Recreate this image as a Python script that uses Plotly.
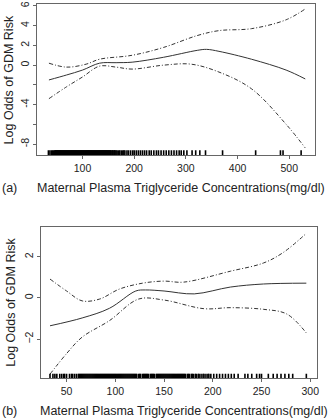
import plotly.graph_objects as go

# ---------------- Data: panel (a) ----------------
a_x = [35, 69, 100, 133, 165, 196, 257, 322, 340, 364, 427, 494, 531]
a_fit = [-1.5, -1.0, -0.5, 0.2, 0.25, 0.3, 0.8, 1.5, 1.6, 1.4, 0.6, -0.5, -1.4]
a_up_x = [35, 69, 107, 133, 196, 257, 322, 364, 427, 494, 531]
a_up = [0.2, -0.2, 0.1, 0.6, 1.0, 1.8, 3.0, 3.5, 3.7, 4.6, 5.7]
a_lo_x = [35, 69, 100, 133, 165, 196, 257, 310, 364, 427, 494, 531]
a_lo = [-3.4, -2.2, -1.2, -0.1, -0.2, -0.4, 0.0, 0.1, -0.7, -2.4, -6.0, -8.4]

rug_a = [34, 37, 40, 42, 44, 46, 47, 48, 49, 50, 51, 52, 53, 54, 55, 56, 57, 58,
         59, 60, 61, 62, 63, 64, 65, 66, 67, 68, 69, 70, 71, 72, 73, 74, 75, 76,
         77, 78, 79, 80, 81, 82, 83, 84, 85, 86, 87, 88, 89, 90, 91, 92, 93, 94,
         95, 96, 97, 98, 99, 100, 101, 102, 103, 104, 105, 106, 107, 108, 109,
         110, 111, 112, 113, 114, 115, 116, 117, 118, 119, 120, 121, 122, 123,
         124, 125, 126, 127, 128, 129, 130, 131, 132, 133, 134, 135, 136, 137,
         138, 139, 140, 141, 142, 143, 144, 145, 146, 147, 148, 149, 150, 151,
         152, 153, 154, 155, 157, 158, 159, 161, 162, 163, 165, 167, 170, 172,
         175, 178, 180, 182, 186, 189, 193, 197, 200, 204, 208, 212, 216, 220,
         224, 229, 233, 238, 243, 247, 252, 257, 262, 267, 272, 277, 282, 287,
         291, 296, 302, 312, 319, 327, 338, 371, 435, 483, 488, 523]

# ---------------- Data: panel (b) ----------------
b_x = [33, 66, 94, 121, 131, 150, 181, 218, 252, 296]
b_fit = [-1.35, -0.97, -0.5, 0.34, 0.39, 0.34, 0.2, 0.53, 0.68, 0.72]
b_up_x = [33, 50, 66, 84, 104, 128, 150, 170, 218, 252, 272, 296]
b_up = [0.92, 0.34, -0.14, -0.05, 0.43, 0.72, 0.82, 0.77, 1.3, 1.7, 2.2, 3.14]
b_lo_x = [33, 50, 66, 94, 124, 150, 191, 218, 252, 276, 296]
b_lo = [-3.7, -2.7, -1.9, -1.1, -0.05, -0.1, -0.52, -0.47, -0.55, -0.78, -1.7]

rug_b = [33, 36, 38, 40, 43, 45, 47, 48, 50, 53, 55, 56, 58, 60, 62, 63,
         64, 65, 66, 67, 68, 69, 70, 71, 72, 73, 74, 75, 76, 77, 78, 79, 80, 81,
         82, 83, 84, 85, 86, 87, 88, 89, 90, 91, 92, 93, 94, 95, 96, 97, 98, 99,
         100, 101, 102, 103, 104, 105, 106, 107, 108, 109, 110, 111, 112, 113,
         114, 115, 116, 117, 118, 119, 120, 121, 122, 124, 125, 126, 128, 129,
         130, 131, 132, 133, 134, 136, 137, 138, 139, 140, 142, 143, 144, 145,
         146, 147, 148, 149, 150, 151, 152, 153, 154, 155, 156, 157, 158, 159,
         160, 161, 162, 163, 164, 165, 166, 167, 168, 169, 170, 171, 172, 174,
         175, 176, 178, 179, 180, 182, 183, 185, 186, 188, 190, 191, 193, 195,
         196, 198, 201, 204, 207, 210, 213, 216, 219, 222, 226, 233, 236, 240,
         245, 248, 250, 257, 262, 266, 270, 274, 278, 282, 296]

x_title = "Maternal Plasma Triglyceride Concentrations(mg/dl)"
y_title = "Log Odds of GDM Risk"
a_xticks = [100, 200, 300, 400, 500]
a_yticks = [-8, -6, -4, -2, 0, 2, 4, 6]
a_yticktext = ["-8", "", "-4", "", "0", "2", "4", "6"]
b_xticks = [50, 100, 150, 200, 250, 300]
b_yticks = [-2, 0, 2]

a_xrange = [11.5, 550]
a_yrange = [-9.1, 6.2]
b_xrange = [23.5, 307]
b_yrange = [-3.9, 3.43]

FONT = "Liberation Sans, Arial, sans-serif"
LC = "#333333"
DASH = "4px,2px,1px,2px"

fig = go.Figure()


def rug_trace(vals, yr, xa, ya):
    y0 = yr[0]
    y1 = yr[0] + 0.03 * (yr[1] - yr[0])
    xs, ys = [], []
    for v in vals:
        xs += [v, v, None]
        ys += [y0, y1, None]
    return go.Scatter(x=xs, y=ys, mode="lines", line=dict(color="#000000", width=1.6),
                      xaxis=xa, yaxis=ya, showlegend=False, hoverinfo="skip")


def curve(x, y, xa, ya, dash=None):
    return go.Scatter(x=x, y=y, mode="lines",
                      line=dict(color=LC, width=1, dash=dash, shape="spline", smoothing=1.0),
                      xaxis=xa, yaxis=ya, showlegend=False)


fig.add_trace(curve(a_x, a_fit, "x", "y"))
fig.add_trace(curve(a_up_x, a_up, "x", "y", DASH))
fig.add_trace(curve(a_lo_x, a_lo, "x", "y", DASH))
fig.add_trace(rug_trace(rug_a, a_yrange, "x", "y"))

fig.add_trace(curve(b_x, b_fit, "x2", "y2"))
fig.add_trace(curve(b_up_x, b_up, "x2", "y2", DASH))
fig.add_trace(curve(b_lo_x, b_lo, "x2", "y2", DASH))
fig.add_trace(rug_trace(rug_b, b_yrange, "x2", "y2"))

W, H = 330, 418
axis_common = dict(showline=True, linecolor="#666666", linewidth=1, mirror=True,
                   ticks="outside", ticklen=3, tickcolor="#666666", tickwidth=1,
                   showgrid=False, zeroline=False, ticklabeloverflow="allow",
                   tickfont=dict(family=FONT, size=10.5, color="#222222"))

fig.update_layout(
    width=W, height=H,
    margin=dict(l=0, r=0, t=0, b=0),
    paper_bgcolor="white", plot_bgcolor="white",
    xaxis=dict(domain=[37 / W, 317 / W], range=a_xrange, anchor="y",
               tickvals=a_xticks, **axis_common),
    yaxis=dict(domain=[1 - 153 / H, 1 - 1 / H], range=a_yrange, anchor="x",
               tickvals=a_yticks, ticktext=a_yticktext, tickangle=-90, **axis_common),
    xaxis2=dict(domain=[41 / W, 319 / W], range=b_xrange, anchor="y2",
                tickvals=b_xticks, **axis_common),
    yaxis2=dict(domain=[1 - 378 / H, 1 - 226 / H], range=b_yrange, anchor="x2",
                tickvals=b_yticks, tickangle=-90, **axis_common),
)

tf = dict(family=FONT, size=12.5, color="#222222")
ann = [
    dict(text=x_title, x=182.5 / W, y=1 - 186 / H),
    dict(text="(a)", x=10 / W, y=1 - 186 / H),
    dict(text=x_title, x=185 / W, y=1 - 411 / H),
    dict(text="(b)", x=10 / W, y=1 - 411 / H),
    dict(text=y_title, x=10 / W, y=1 - 77 / H, textangle=-90),
    dict(text=y_title, x=11 / W, y=1 - 301 / H, textangle=-90),
]
for a in ann:
    fig.add_annotation(xref="paper", yref="paper", showarrow=False,
                       xanchor="center", yanchor="middle", font=tf, **a)

fig.write_html("out.html")
